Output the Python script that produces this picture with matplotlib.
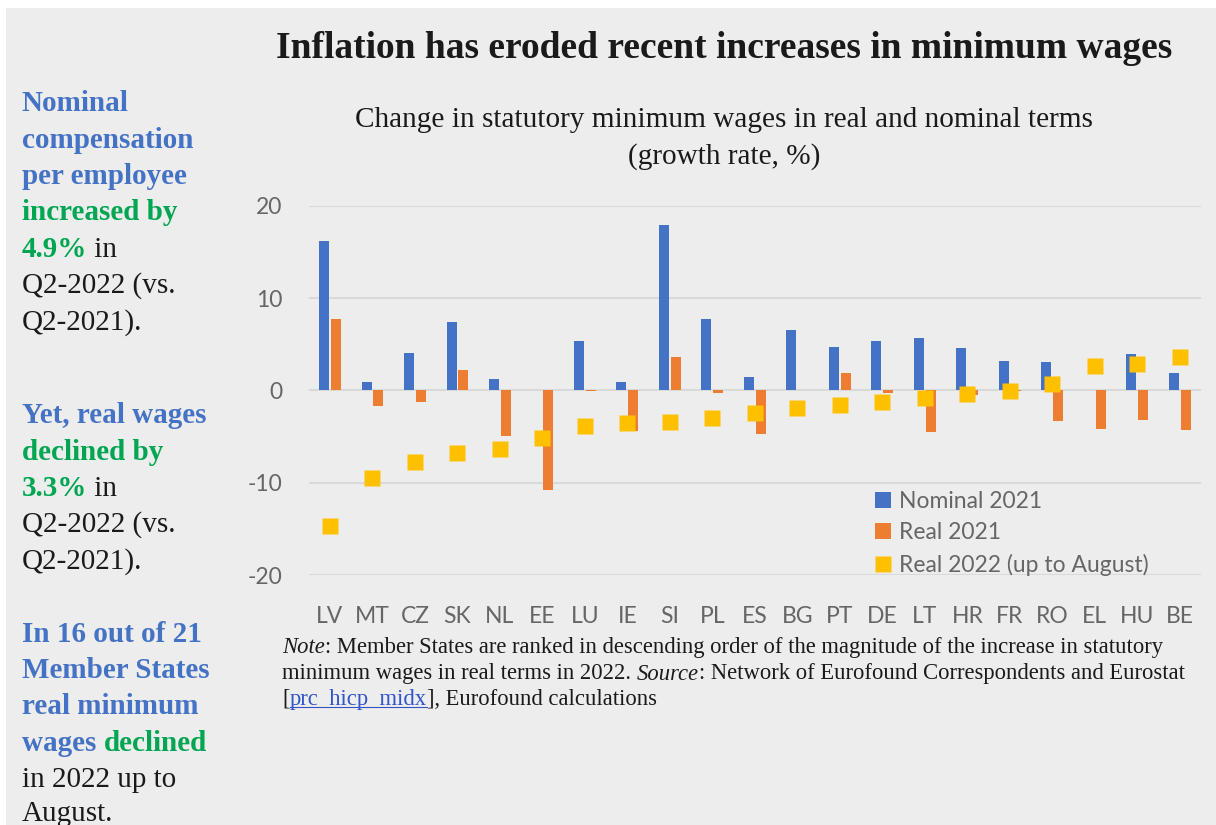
import numpy as np
import matplotlib
matplotlib.use('Agg')
import matplotlib.pyplot as plt
from matplotlib.patches import Rectangle
from matplotlib.lines import Line2D

# Data (growth rate, %)
countries = ['LV', 'MT', 'CZ', 'SK', 'NL', 'EE', 'LU', 'IE', 'SI', 'PL', 'ES',
             'BG', 'PT', 'DE', 'LT', 'HR', 'FR', 'RO', 'EL', 'HU', 'BE']
nominal_2021 = [16.2, 0.9, 4.1, 7.4, 1.2, 0.0, 5.3, 0.9, 17.9, 7.7, 1.5,
                6.5, 4.7, 5.3, 5.7, 4.6, 3.2, 3.1, 0.0, 3.9, 1.9]
real_2021 = [7.7, -1.7, -1.3, 2.2, -4.9, -10.8, -0.1, -4.4, 3.6, -0.3, -4.7,
             0.0, 1.9, -0.3, -4.5, -0.5, -0.1, -3.3, -4.2, -3.2, -4.3]
real_2022 = [-14.7, -9.5, -7.8, -6.8, -6.3, -5.2, -3.9, -3.5, -3.4, -3.0, -2.4,
             -1.9, -1.6, -1.3, -0.8, -0.4, -0.1, 0.7, 2.6, 2.9, 3.6]
y_ticks = [-20, -10, 0, 10, 20]
series_labels = ['Nominal 2021', 'Real 2021', 'Real 2022 (up to August)']

# Colours
BLUE = '#4472C4'
ORANGE = '#ED7D31'
YELLOW = '#FFC000'
GREEN = '#00A651'
GRAY = '#666666'
INK = '#1a1a1a'
BG = '#EDEDED'

W, H = 1216, 825
fig = plt.figure(figsize=(W / 100, H / 100), dpi=100, facecolor='white')
fig.patches.append(Rectangle((6 / W, 0), 1 - 6 / W, 1 - 8 / H, transform=fig.transFigure,
                             facecolor=BG, edgecolor='none', zorder=-10))

# Main chart
ax = fig.add_axes([308.75 / W, 1 - 575.1 / H, (1201 - 308.75) / W, (575.1 - 205.7) / H])
ax.set_facecolor('none')
x = np.arange(len(countries))
bw, off = 0.235, 0.14
b1 = ax.bar(x - off, nominal_2021, bw, color=BLUE, linewidth=0, zorder=2)
b2 = ax.bar(x + off, real_2021, bw, color=ORANGE, linewidth=0, zorder=2)
ln, = ax.plot(x, real_2022, ls='none', marker='s', ms=11.5, mfc=YELLOW, mec='none', zorder=3)

ax.set_xlim(-0.5, len(countries) - 0.5)
ax.set_ylim(-20, 20)
ax.set_yticks(y_ticks, [str(v) for v in y_ticks])
ax.set_xticks(x, countries)
ax.grid(axis='y', color='#D9D9D9', lw=1.5, zorder=0)
ax.set_axisbelow(True)
for s in ax.spines.values():
    s.set_visible(False)
ax.tick_params(length=0, labelsize=16.5, labelcolor=GRAY)
ax.tick_params(axis='x', pad=22)
ax.tick_params(axis='y', pad=19)
for lab in ax.get_xticklabels() + ax.get_yticklabels():
    lab.set_fontfamily('Lato')

fig.legend([b1, b2, ln], series_labels, loc='center left',
           bbox_to_anchor=(875 / W, 1 - 533.5 / H), frameon=False,
           prop={'family': 'Lato', 'size': 16.5}, labelcolor=GRAY,
           handlelength=0.7, handleheight=0.7, handletextpad=0.35,
           labelspacing=0.45, borderpad=0, borderaxespad=0)

# Titles
fig.text(724 / W, 1 - 58.5 / H, 'Inflation has eroded recent increases in minimum wages',
         ha='center', va='baseline', family='Liberation Serif', weight='bold', size=27, color=INK)
fig.text(724 / W, 1 - 126.7 / H, 'Change in statutory minimum wages in real and nominal terms',
         ha='center', va='baseline', family='Liberation Serif', size=21.1, color=INK)
fig.text(724 / W, 1 - 163.3 / H, '(growth rate, %)',
         ha='center', va='baseline', family='Liberation Serif', size=21.1, color=INK)

renderer = fig.canvas.get_renderer()


def draw_pieces(x_px, y_px, pieces, size):
    # draw text pieces with mixed styles one after another on one baseline
    xx = x_px
    for text, style in pieces:
        kw = dict(family='Liberation Serif', size=size, color=INK, ha='left', va='baseline')
        if style == 'blue':
            kw.update(color=BLUE, weight='bold')
        elif style == 'green':
            kw.update(color=GREEN, weight='bold')
        elif style == 'italic':
            kw.update(style='italic')
        elif style == 'link':
            kw.update(color='#2F55C8')
        t = fig.text(xx / W, 1 - y_px / H, text, **kw)
        bb = t.get_window_extent(renderer)
        if style == 'link':
            fig.add_artist(Line2D([bb.x0 / W, bb.x1 / W], [(H - y_px - 2) / H] * 2,
                                  transform=fig.transFigure, color='#2F55C8', lw=0.8))
        xx = bb.x1


# Left side commentary
side_lines = [
    [('Nominal', 'blue')],
    [('compensation', 'blue')],
    [('per employee', 'blue')],
    [('increased by', 'green')],
    [('4.9%', 'green'), (' in', 'plain')],
    [('Q2-2022 (vs.', 'plain')],
    [('Q2-2021).', 'plain')],
    [('Yet, real wages', 'blue')],
    [('declined by', 'green')],
    [('3.3%', 'green'), (' in', 'plain')],
    [('Q2-2022 (vs.', 'plain')],
    [('Q2-2021).', 'plain')],
    [('In 16 out of 21', 'blue')],
    [('Member States', 'blue')],
    [('real minimum', 'blue')],
    [('wages ', 'blue'), ('declined', 'green')],
    [('in 2022 up to', 'plain')],
    [('August.', 'plain')],
]
side_baselines = [111, 147.5, 184, 220.5, 257, 293, 329.5,
                  423, 460, 496, 532, 568.5,
                  642, 678.5, 714.5, 751, 787, 821]
for pieces, yb in zip(side_lines, side_baselines):
    draw_pieces(22, yb, pieces, 21)

# Note under the chart
note_lines = [
    [('Note', 'italic'), (': Member States are ranked in descending order of the magnitude of the increase in statutory', 'plain')],
    [('minimum wages in real terms in 2022. ', 'plain'), ('Source', 'italic'),
     (': Network of Eurofound Correspondents and Eurostat', 'plain')],
    [('[', 'plain'), ('prc_hicp_midx', 'link'), ('], Eurofound calculations', 'plain')],
]
for pieces, yb in zip(note_lines, [652.7, 679.5, 705]):
    draw_pieces(282, yb, pieces, 16.3)

fig.savefig('out.png', dpi=100, facecolor=fig.get_facecolor())
